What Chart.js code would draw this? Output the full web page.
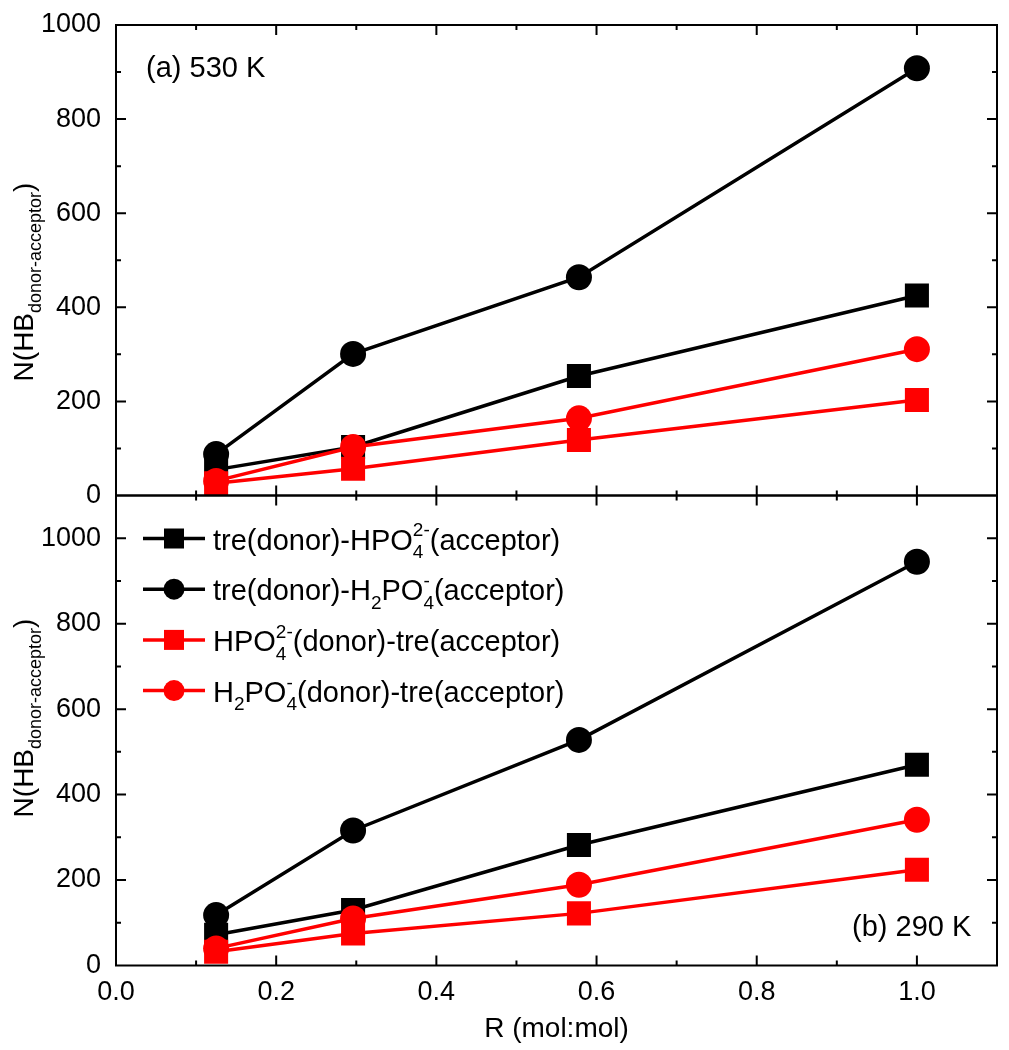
<!DOCTYPE html>
<html>
<head>
<meta charset="utf-8">
<script src="https://cdn.jsdelivr.net/npm/chart.js@4.4.1/dist/chart.umd.min.js"></script>
<style>
  body { margin: 0; background: #fff; }
  #wrap { position: relative; width: 1009px; height: 1050px; }
  .panel { position: absolute; left: 0; }
  .panel canvas { display: block; }
  #topBox { top: 0; }
  #botBox { top: 470px; }
</style>
</head>
<body>
<div id="wrap">
  <div class="panel" id="topBox"><canvas id="topChart" width="1009" height="520"></canvas></div>
  <div class="panel" id="botBox"><canvas id="botChart" width="1009" height="580"></canvas></div>
</div>
<script>
const FONT = '"Liberation Sans", Arial, sans-serif';

// R (mol:mol)
const ratios = [0.125, 0.296, 0.578, 1.0];

// (a) 530 K
const hotTreHPO4 = [55, 103, 254, 425];
const hotTreH2PO4 = [88, 301, 464, 908];
const hotHPO4Tre = [26, 57, 118, 203];
const hotH2PO4Tre = [31, 103, 164, 311];

// (b) 290 K
const coldTreHPO4 = [72, 130, 282, 470];
const coldTreH2PO4 = [118, 316, 528, 945];
const coldHPO4Tre = [32, 75, 122, 224];
const coldH2PO4Tre = [40, 110, 189, 341];

const xTicks = [0, 0.2, 0.4, 0.6, 0.8, 1.0];
const yTicks = [0, 200, 400, 600, 800, 1000];

const seriesNames = [
  [{t: 'tre(donor)-HPO'}, {sub: '4', sup: '2-'}, {t: '(acceptor)'}],
  [{t: 'tre(donor)-H'}, {sub: '2'}, {t: 'PO'}, {sub: '4', sup: '-'}, {t: '(acceptor)'}],
  [{t: 'HPO'}, {sub: '4', sup: '2-'}, {t: '(donor)-tre(acceptor)'}],
  [{t: 'H'}, {sub: '2'}, {t: 'PO'}, {sub: '4', sup: '-'}, {t: '(donor)-tre(acceptor)'}]
];
const seriesColors = ['#000000', '#000000', '#ff0000', '#ff0000'];
const seriesShapes = ['rect', 'circle', 'rect', 'circle'];
const yTitle = [{t: 'N(HB'}, {sub: 'donor-acceptor'}, {t: ')'}];

function plainName(segs) {
  return segs.map(s => s.t || ((s.sub || '') + (s.sup || ''))).join('');
}

function makeDatasets(series) {
  return series.map((vals, i) => ({
    label: plainName(seriesNames[i]),
    data: ratios.map((r, j) => ({x: r, y: vals[j]})),
    borderColor: seriesColors[i],
    backgroundColor: seriesColors[i],
    borderWidth: 3.5,
    pointStyle: seriesShapes[i],
    pointRadius: seriesShapes[i] === 'rect' ? 17 : 13,
    pointBorderWidth: 0,
    pointBackgroundColor: seriesColors[i],
    order: seriesColors[i] === '#ff0000' ? 0 : 1,
    tension: 0
  }));
}

// draws text with stacked sub/superscripts, returns width
function drawRich(ctx, segs, x, y, size, small, draw) {
  let cx = x;
  segs.forEach(seg => {
    if (seg.t) {
      ctx.font = size + 'px ' + FONT;
      if (draw) ctx.fillText(seg.t, cx, y);
      cx += ctx.measureText(seg.t).width;
    } else {
      ctx.font = small + 'px ' + FONT;
      let w = 0;
      if (seg.sub) {
        if (draw) ctx.fillText(seg.sub, cx, y + size * 0.3);
        w = Math.max(w, ctx.measureText(seg.sub).width);
      }
      if (seg.sup) {
        if (draw) ctx.fillText(seg.sup, cx, y - size * 0.45);
        w = Math.max(w, ctx.measureText(seg.sup).width);
      }
      cx += w;
    }
  });
  return cx - x;
}

const panelDecor = {
  id: 'panelDecor',
  // pin the plot box to the figure's position, then let the scales remap
  afterLayout(chart, args, opts) {
    const a = chart.chartArea;
    const {x, y} = chart.scales;
    a.left = 116;
    a.right = 997;
    a.width = a.right - a.left;
    a.top = opts.top;
    a.bottom = opts.bottom;
    a.height = a.bottom - a.top;
    y.top = a.top;
    y.bottom = a.bottom;
    y.height = a.height;
    y.left = 0;
    y.right = a.left;
    y.width = a.left;
    y.configure();
    const h = x.height;
    x.left = a.left;
    x.right = a.right;
    x.width = a.width;
    x.top = a.bottom;
    x.bottom = a.bottom + h;
    x.configure();
  },
  afterDraw(chart, args, opts) {
    const {ctx, chartArea: a, scales: {x, y}} = chart;
    ctx.save();

    // frame with inward ticks
    ctx.strokeStyle = '#000';
    ctx.lineWidth = 2;
    ctx.strokeRect(a.left, a.top, a.right - a.left, a.bottom - a.top);
    ctx.beginPath();
    for (let k = 1; k * 0.1 < x.max - 1e-9; k++) {
      const px = x.getPixelForValue(k / 10);
      const len = k % 2 === 0 ? 10 : 5;
      ctx.moveTo(px, a.bottom); ctx.lineTo(px, a.bottom - len);
      ctx.moveTo(px, a.top); ctx.lineTo(px, a.top + len);
    }
    for (let k = 1; k * 100 < y.max; k++) {
      const py = y.getPixelForValue(k * 100);
      const len = k % 2 === 0 ? 10 : 5;
      ctx.moveTo(a.left, py); ctx.lineTo(a.left + len, py);
      ctx.moveTo(a.right, py); ctx.lineTo(a.right - len, py);
    }
    ctx.stroke();

    ctx.fillStyle = '#000';
    ctx.textBaseline = 'alphabetic';
    ctx.textAlign = 'left';

    // y title, rotated
    const tw = drawRich(ctx, yTitle, 0, 0, 28, 18, false);
    ctx.save();
    ctx.translate(33, opts.titleY);
    ctx.rotate(-Math.PI / 2);
    drawRich(ctx, yTitle, -tw / 2, 0, 28, 18, true);
    ctx.restore();

    // panel label
    ctx.font = '29px ' + FONT;
    ctx.fillText(opts.label, opts.labelX, opts.labelY);

    if (opts.xTitle) {
      ctx.font = '28px ' + FONT;
      ctx.textAlign = 'center';
      ctx.fillText('R (mol:mol)', (a.left + a.right) / 2, opts.xTitleY);
      ctx.textAlign = 'left';
    }

    if (opts.legend) {
      seriesNames.forEach((segs, i) => {
        const cy = a.top + 43 + i * 50.7;
        const col = seriesColors[i];
        ctx.strokeStyle = col;
        ctx.fillStyle = col;
        ctx.lineWidth = 3.5;
        ctx.beginPath();
        ctx.moveTo(143, cy); ctx.lineTo(205, cy);
        ctx.stroke();
        if (seriesShapes[i] === 'rect') {
          ctx.fillRect(164, cy - 10, 20, 20);
        } else {
          ctx.beginPath();
          ctx.arc(174, cy, 10.5, 0, Math.PI * 2);
          ctx.fill();
        }
        ctx.fillStyle = '#000';
        drawRich(ctx, segs, 213, cy + 11, 29, 19, true);
      });
    }
    ctx.restore();
  }
};

function panelConfig(series, showX, decor) {
  return {
    type: 'line',
    data: {datasets: makeDatasets(series)},
    plugins: [panelDecor],
    options: {
      responsive: false,
      maintainAspectRatio: false,
      animation: false,
      events: [],
      layout: {padding: {left: 0, right: 12, top: 25, bottom: showX ? 0 : 24}},
      plugins: {legend: {display: false}, title: {display: false}, tooltip: {enabled: false}, panelDecor: decor},
      scales: {
        x: {
          type: 'linear',
          min: 0,
          max: 1.1,
          display: showX,
          afterBuildTicks: s => { s.ticks = xTicks.map(v => ({value: v})); },
          afterFit: s => { s.height = showX ? 84 : 0; },
          grid: {display: false, drawTicks: false},
          border: {display: false},
          ticks: {
            display: showX,
            font: {family: FONT, size: 27},
            color: '#000',
            padding: 11,
            maxRotation: 0,
            callback: v => v.toFixed(1)
          }
        },
        y: {
          type: 'linear',
          min: 0,
          max: showX ? 1100 : 1000,
          afterBuildTicks: s => { s.ticks = yTicks.map(v => ({value: v})); },
          afterFit: s => { s.width = 116; },
          grid: {display: false, drawTicks: false},
          border: {display: false},
          ticks: {
            font: {family: FONT, size: 27},
            color: '#000',
            padding: 15,
            callback: v => String(v)
          }
        }
      }
    }
  };
}

new Chart(document.getElementById('topChart'), panelConfig(
  [hotTreHPO4, hotTreH2PO4, hotHPO4Tre, hotH2PO4Tre], false,
  {label: '(a) 530 K', labelX: 146, labelY: 77, titleY: 282, legend: false, top: 25, bottom: 495.5}
));

new Chart(document.getElementById('botChart'), panelConfig(
  [coldTreHPO4, coldTreH2PO4, coldHPO4Tre, coldH2PO4Tre], true,
  {label: '(b) 290 K', labelX: 852, labelY: 466, titleY: 248, legend: true,
   xTitle: true, xTitleY: 567, top: 25.5, bottom: 495.5}
));
</script>
</body>
</html>
